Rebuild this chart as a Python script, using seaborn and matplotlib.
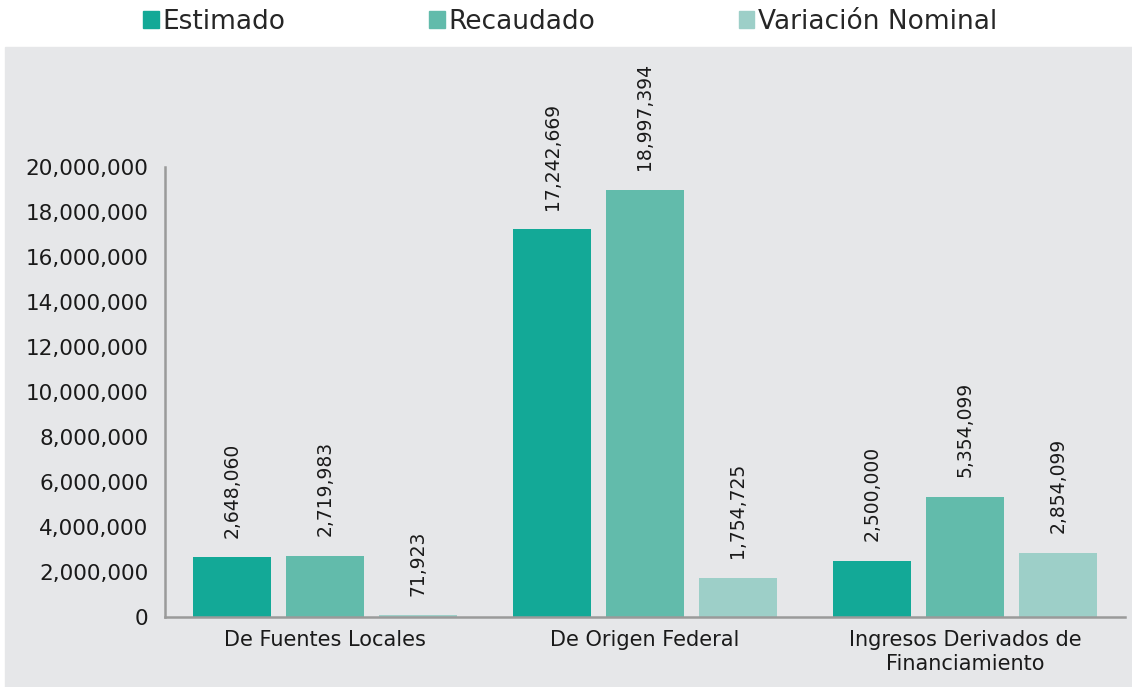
import matplotlib.pyplot as plt
import matplotlib.patches as mpatches
import seaborn as sns
import pandas as pd

# datos del grafico
categorias = ["De Fuentes Locales", "De Origen Federal", "Ingresos Derivados de\nFinanciamiento"]
estimado = [2648060, 17242669, 2500000]
recaudado = [2719983, 18997394, 5354099]
variacion = [71923, 1754725, 2854099]
series = ["Estimado", "Recaudado", "Variación Nominal"]
colores = ["#13A997", "#62BBAB", "#9DCFC8"]

df = pd.DataFrame({
    "Categoria": categorias * 3,
    "Serie": [series[0]] * 3 + [series[1]] * 3 + [series[2]] * 3,
    "Monto": estimado + recaudado + variacion,
})

sns.set_style("white")
plt.rcParams["font.family"] = ["DejaVu Sans"]
fondo = "#E6E7E9"

fig = plt.figure(figsize=(11.32, 6.87), dpi=100)
# fondo gris detras del grafico
fig.patches.append(mpatches.Rectangle((5 / 1132, 0), 1, (687 - 47) / 687,
                                      transform=fig.transFigure, color=fondo, zorder=-5))
ax = fig.add_axes([165 / 1132, 1 - 617 / 687, 960 / 1132, 450 / 687])
ax.set_facecolor(fondo)

sns.barplot(data=df, x="Categoria", y="Monto", hue="Serie", palette=colores,
            width=0.87, gap=0.16, ax=ax, legend=False, saturation=1, linewidth=0)

for bars in ax.containers:
    ax.bar_label(bars, labels=[f"{v:,.0f}" for v in bars.datavalues],
                 rotation=90, padding=14, fontsize=13.5, color="#1a1a1a", clip_on=False)

ax.set_ylim(0, 20000000)
ax.set_xlim(-0.5, 2.5)
ax.set_yticks(range(0, 20000001, 2000000))
ax.yaxis.set_major_formatter(plt.FuncFormatter(lambda v, p: f"{v:,.0f}"))
ax.tick_params(axis="y", length=0, pad=12, labelsize=15.5, labelcolor="#1a1a1a")
ax.tick_params(axis="x", length=0, pad=9, labelsize=15, labelcolor="#1a1a1a")
for t in ax.get_xticklabels():
    t.set_linespacing(1.3)
ax.set_xlabel("")
ax.set_ylabel("")
for s in ["top", "right"]:
    ax.spines[s].set_visible(False)
for s in ["left", "bottom"]:
    ax.spines[s].set_color("#9a9a9a")
    ax.spines[s].set_linewidth(1.8)

handles = [mpatches.Patch(color=c, label=s) for c, s in zip(colores, series)]
fig.legend(handles=handles, loc="upper center", bbox_to_anchor=(0.5035, 1.022), ncol=3,
           frameon=False, fontsize=19, handlelength=0.6, handleheight=0.6,
           handletextpad=0.12, columnspacing=5.45)

fig.savefig("out.png", dpi=100)
